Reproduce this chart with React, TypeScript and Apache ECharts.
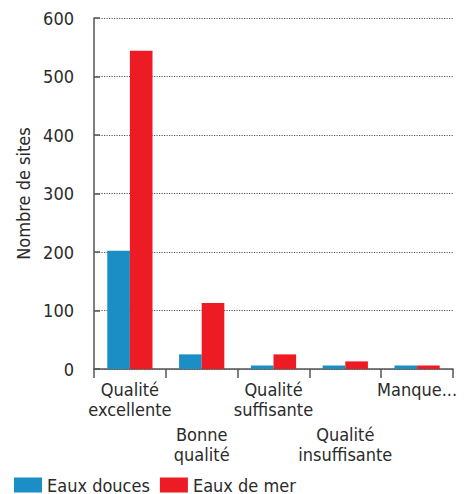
import React, { useEffect, useRef } from "react";
import * as echarts from "echarts";

const categories = [
  "Qualité\nexcellente",
  "Bonne\nqualité",
  "Qualité\nsuffisante",
  "Qualité\ninsuffisante",
  "Manque...",
];
const eauxDouces = [202, 25, 6, 6, 6];
const eauxDeMer = [544, 113, 25, 13, 6];
const seriesNames = ["Eaux douces", "Eaux de mer"];

const FONT = "'Liberation Sans Narrow', 'Arial Narrow', 'DejaVu Sans Condensed', sans-serif";
const TEXT = "#2b2b2b";
const FS = 18;

export default function App() {
  const ref = useRef<HTMLDivElement>(null);

  useEffect(() => {
    if (!ref.current) return;
    const chart = echarts.init(ref.current, undefined, { renderer: "svg" });
    chart.setOption({
      animation: false,
      textStyle: { fontFamily: FONT },
      grid: { left: 94, right: 16, top: 18, bottom: 125, containLabel: false },
      legend: {
        left: 14,
        top: 476,
        padding: 0,
        itemWidth: 28,
        itemHeight: 15,
        itemGap: 10,
        icon: "rect",
        textStyle: { fontFamily: FONT, fontSize: FS, lineHeight: 17, color: TEXT },
        data: seriesNames,
      },
      xAxis: {
        type: "category",
        data: categories,
        axisLine: { lineStyle: { color: "#555", width: 1.5 } },
        axisTick: { show: true, length: 9, lineStyle: { color: "#555", width: 1.5 } },
        axisLabel: {
          interval: 0,
          margin: 10,
          color: TEXT,
          fontFamily: FONT,
          fontSize: FS,
          lineHeight: 20,
          formatter: (value: string, index: number) => {
            const lines = value.split("\n").map((l) => `{t|${l}}`);
            if (index % 2 === 1) lines.unshift("{sp| }");
            return lines.join("\n");
          },
          rich: {
            t: { fontFamily: FONT, fontSize: FS, lineHeight: 20, color: TEXT },
            sp: { fontSize: 10, lineHeight: 45 },
          },
        },
      },
      yAxis: {
        type: "value",
        min: 0,
        max: 600,
        interval: 100,
        name: "Nombre de sites",
        nameLocation: "middle",
        nameGap: 62,
        nameTextStyle: { fontFamily: FONT, fontSize: FS, color: TEXT },
        axisLine: { show: true, lineStyle: { color: "#555", width: 1.5 } },
        axisTick: { show: true, inside: true, length: 6, lineStyle: { color: "#555", width: 1.5 } },
        axisLabel: { margin: 20, color: TEXT, fontFamily: FONT, fontSize: FS },
        splitLine: { lineStyle: { color: "#555", type: [1.2, 1.3], width: 1 } },
      },
      series: [
        {
          name: seriesNames[0],
          type: "bar",
          data: eauxDouces,
          itemStyle: { color: "#1b8ec5" },
          barGap: "0%",
          barCategoryGap: "37%",
        },
        {
          name: seriesNames[1],
          type: "bar",
          data: eauxDeMer,
          itemStyle: { color: "#ed1c24" },
          barGap: "0%",
          barCategoryGap: "37%",
        },
      ],
    });
    return () => chart.dispose();
  }, []);

  return <div ref={ref} style={{ width: 469, height: 494, marginLeft: -8, marginTop: -8 }} />;
}
